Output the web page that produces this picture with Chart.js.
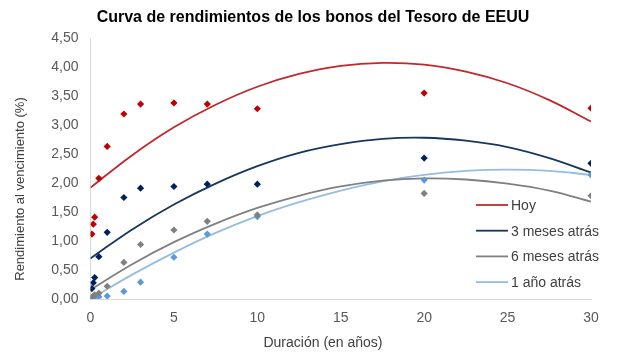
<!DOCTYPE html>
<html>
<head>
<meta charset="utf-8">
<script src="https://cdn.jsdelivr.net/npm/chart.js@4.4.1/dist/chart.umd.min.js"></script>
<style>
  html, body { margin: 0; padding: 0; background: #ffffff; }
  #wrap { width: 617px; height: 354px; position: relative; }
</style>
</head>
<body>
<div id="wrap"><canvas id="c" width="617" height="354"></canvas></div>
<script>
// ---- data ----
const chartTitle = 'Curva de rendimientos de los bonos del Tesoro de EEUU';
const xTitle = 'Duración (en años)';
const yTitle = 'Rendimiento al vencimiento (%)';
const seriesNames = ['Hoy', '3 meses atrás', '6 meses atrás', '1 año atrás'];

const maturities = [0.083, 0.167, 0.25, 0.5, 1, 2, 3, 5, 7, 10, 20, 30];
const hoy       = [1.12, 1.29, 1.41, 2.08, 2.63, 3.19, 3.36, 3.38, 3.36, 3.28, 3.55, 3.29];
const tresMeses = [0.18, 0.28, 0.37, 0.73, 1.15, 1.75, 1.91, 1.94, 1.98, 1.98, 2.43, 2.34];
const seisMeses = [0.03, 0.05, 0.07, 0.10, 0.22, 0.63, 0.94, 1.19, 1.34, 1.45, 1.82, 1.78];
const unAno     = [0.01, 0.02, 0.03, 0.04, 0.05, 0.13, 0.29, 0.72, 1.12, 1.42, 2.05, 2.14];

// trend curves
const trendX         = [0, 2.5, 5, 7.5, 10, 12.5, 15, 17.5, 20, 22.5, 25, 27.5, 30];
const hoyTrend       = [1.92, 2.48, 2.96, 3.35, 3.66, 3.88, 4.02, 4.07, 4.04, 3.92, 3.72, 3.43, 3.06];
const tresMesesTrend = [0.70, 1.20, 1.63, 1.99, 2.29, 2.52, 2.67, 2.76, 2.78, 2.73, 2.62, 2.43, 2.18];
const seisMesesTrend = [0.16, 0.60, 0.98, 1.30, 1.57, 1.78, 1.94, 2.04, 2.08, 2.06, 1.99, 1.87, 1.68];
const unAnoTrend     = [0.00, 0.42, 0.80, 1.14, 1.43, 1.67, 1.87, 2.03, 2.14, 2.21, 2.23, 2.21, 2.14];

const xTicks = [0, 5, 10, 15, 20, 25, 30];
const yMin = 0, yMax = 4.5, yStep = 0.5;

// ---- styles ----
const pointColors = ['#C00000', '#002060', '#808080', '#5B9BD5'];
const lineColors  = ['#C0282D', '#17375E', '#808080', '#95BDE4'];
const FONT = '"Liberation Sans", Arial, sans-serif';

const pts = (xs, ys) => xs.map((x, i) => ({ x: x, y: ys[i] }));
const pointSeries = [hoy, tresMeses, seisMeses, unAno];
const trendSeries = [hoyTrend, tresMesesTrend, seisMesesTrend, unAnoTrend];

const datasets = [];
trendSeries.forEach((s, i) => {
  datasets.push({
    label: seriesNames[i],
    data: pts(trendX, s),
    showLine: true,
    borderColor: lineColors[i],
    borderWidth: 1.8,
    pointRadius: 0,
    tension: 0.4,
    fill: false,
    isLegend: true,
    order: 2
  });
});
pointSeries.forEach((s, i) => {
  datasets.push({
    label: seriesNames[i] + ' (datos)',
    data: pts(maturities, s),
    showLine: false,
    pointStyle: 'rectRot',
    pointRadius: 3.6,
    pointBackgroundColor: pointColors[i],
    pointBorderColor: pointColors[i],
    pointBorderWidth: 0,
    order: 1
  });
});

const textPlugin = {
  id: 'textPlugin',
  afterDraw(chart) {
    const ctx = chart.ctx, a = chart.chartArea;
    ctx.save();
    // title
    ctx.fillStyle = '#000000';
    ctx.font = 'bold 16px ' + FONT;
    ctx.textAlign = 'center';
    ctx.textBaseline = 'middle';
    ctx.fillText(chartTitle, 313, 18);
    // x title
    ctx.fillStyle = '#404040';
    ctx.font = '14px ' + FONT;
    ctx.fillText(xTitle, 323, 343);
    // y title
    ctx.save();
    ctx.font = '13px ' + FONT;
    ctx.translate(20, 189);
    ctx.rotate(-Math.PI / 2);
    ctx.fillText(yTitle, 0, 0);
    ctx.restore();
    // legend
    const items = chart.data.datasets.filter(d => d.isLegend);
    ctx.textAlign = 'left';
    ctx.font = '14px ' + FONT;
    items.forEach((d, i) => {
      const y = a.top + 167 + i * 25.7;
      ctx.strokeStyle = d.borderColor;
      ctx.lineWidth = 1.8;
      ctx.beginPath();
      ctx.moveTo(a.right - 115, y);
      ctx.lineTo(a.right - 83, y);
      ctx.stroke();
      ctx.fillStyle = '#404040';
      ctx.fillText(d.label, a.right - 80, y + 1);
    });
    ctx.restore();
  }
};

new Chart(document.getElementById('c'), {
  type: 'scatter',
  data: { datasets: datasets },
  options: {
    responsive: false,
    animation: false,
    layout: { padding: { left: 0, right: 26, top: 38, bottom: 0 } },
    plugins: {
      legend: { display: false },
      title: { display: false },
      tooltip: { enabled: false }
    },
    scales: {
      x: {
        type: 'linear',
        min: 0, max: 30,
        afterBuildTicks: (s) => { s.ticks = xTicks.map(v => ({ value: v })); },
        afterFit: (s) => { s.height = 55; },
        grid: { display: false, drawTicks: false },
        border: { display: true, color: '#D9D9D9', width: 1 },
        ticks: { color: '#595959', font: { family: FONT, size: 14 }, padding: 11, maxRotation: 0 }
      },
      y: {
        type: 'linear',
        min: yMin, max: yMax,
        ticks: {
          stepSize: yStep,
          color: '#595959',
          font: { family: FONT, size: 14 },
          padding: 12,
          callback: (v) => v.toFixed(2).replace('.', ',')
        },
        afterFit: (s) => { s.width = 90.5; },
        grid: { display: false, drawTicks: false },
        border: { display: true, color: '#D9D9D9', width: 1 }
      }
    }
  },
  plugins: [textPlugin]
});
</script>
</body>
</html>
